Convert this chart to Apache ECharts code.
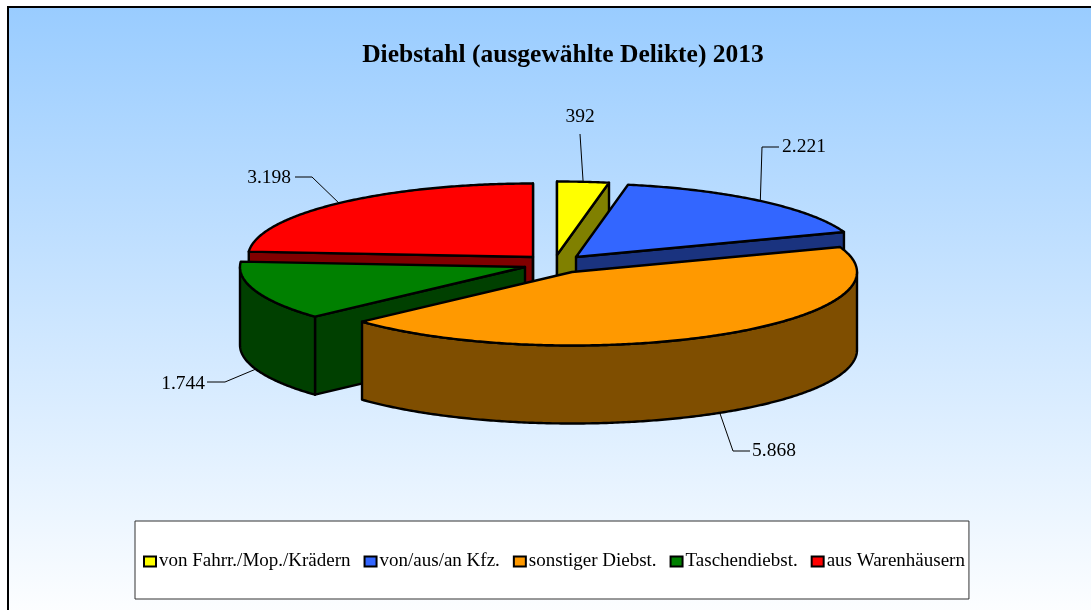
<!DOCTYPE html>
<html><head><meta charset="utf-8">
<style>html,body{margin:0;padding:0;background:#fff}#c{width:1091px;height:610px}</style>
<script src="https://cdn.jsdelivr.net/npm/echarts@6/dist/echarts.min.js"></script>
</head><body><div id="c"></div>
<script>
const categories = ['von Fahrr./Mop./Krädern','von/aus/an Kfz.','sonstiger Diebst.','Taschendiebst.','aus Warenhäusern'];
const values = [392,2221,5868,1744,3198];
const topColors = ['#ffff00','#3366ff','#ff9900','#008000','#ff0000'];
const wallColors = ['#808000','#1a337f','#7f4e00','#004000','#800000'];

// Layout of the exploded 3-D pie (screen pixels), separate from the data
const apexes = [[557,255],[576,257],[572,272],[525,267],[533,257]];
const radiusX = 285, radiusY = 73.5, depth = 78;
const paintOrder = [0,2,4,3,1]; // z rank per slice: yellow, red, blue, green, orange
const labelElbows = [[580,134],[762,147],[733,451],[225,382],[312,177]];
const labelEnds = [[580,134],[779,147],[750,451],[207,382],[295,177]];
const labelAnchors = [[580,117,'center'],[782,147,'left'],[752,451,'left'],[205,384,'right'],[291,178,'right']];

const total = values.reduce((a,b)=>a+b,0);
const starts = []; values.reduce((acc,v,i)=>{starts[i]=acc;return acc+v;},0);
const deg = v => v/total*2*Math.PI;
const fmt = v => String(v).replace(/\B(?=(\d{3})+$)/g,'.');

function pt(i,a,dz){const c=apexes[i];return [c[0]+radiusX*Math.sin(a), c[1]-radiusY*Math.cos(a)+(dz||0)];}
function arc(i,a0,a1,dz){const n=Math.max(2,Math.ceil((a1-a0)/0.01)),r=[];for(let k=0;k<=n;k++)r.push(pt(i,a0+(a1-a0)*k/n,dz));return r;}

function renderSlice(i){
  return function(){
    const a0=deg(starts[i]), a1=deg(starts[i]+values[i]), c=apexes[i];
    const face={fill:wallColors[i],stroke:'#000',lineWidth:2.4,lineJoin:'round'};
    const poly=(pts,style)=>({type:'polygon',shape:{points:pts},style:style,silent:true});
    const kids=[];
    const cut=a=>{const p=pt(i,a);return [c,p,[p[0],p[1]+depth],[c[0],c[1]+depth]];};
    if(-Math.sin(a0)>-1e-6) kids.push(poly(cut(a0),face));
    if(Math.sin(a1)>-1e-6) kids.push(poly(cut(a1),face));
    const f0=Math.max(a0,Math.PI/2), f1=Math.min(a1,Math.PI*1.5);
    if(f1>f0) kids.push(poly(arc(i,f0,f1,0).concat(arc(i,f0,f1,depth).reverse()),face));
    kids.push(poly([c].concat(arc(i,a0,a1,0)),{fill:topColors[i],stroke:'#000',lineWidth:2.4,lineJoin:'round'}));
    // leader line + value label
    const mid=(a0+a1)/2, front=Math.cos(mid)<0;
    const anchor=pt(i,mid,(front&&mid>Math.PI/2&&mid<Math.PI*1.5)?depth:0);
    kids.push({type:'polyline',shape:{points:[labelEnds[i],labelElbows[i],anchor]},style:{fill:null,stroke:'#000',lineWidth:1},silent:true});
    const l=labelAnchors[i];
    kids.push({type:'text',x:l[0],y:l[1],style:{text:fmt(values[i]),fill:'#000',font:'19.5px "Liberation Serif"',align:l[2],verticalAlign:'middle'},silent:true});
    return {type:'group',children:kids};
  };
}

const chart = echarts.init(document.getElementById('c'),null,{renderer:'canvas'});
chart.setOption({
  animation:false,
  backgroundColor:'#ffffff',
  graphic:[{type:'rect',z:-10,silent:true,shape:{x:8,y:7,width:1100,height:620},
    style:{stroke:'#000',lineWidth:2,fill:{type:'linear',x:0,y:0,x2:0,y2:1,colorStops:[{offset:0,color:'#99ccff'},{offset:1,color:'#ffffff'}]}}}],
  title:{text:'Diebstahl (ausgewählte Delikte) 2013',left:558,top:37,textAlign:'center',
    textStyle:{fontFamily:'Liberation Serif',fontWeight:'bold',fontSize:25.5,color:'#000'}},
  legend:{left:135,top:521,orient:'horizontal',data:categories,icon:'rect',itemWidth:12,itemHeight:10,itemGap:13,
    padding:[31,4,28,8],backgroundColor:'#fff',borderColor:'#333',borderWidth:1,borderRadius:0,selectedMode:false,
    itemStyle:{borderColor:'#000',borderWidth:2},
    textStyle:{fontFamily:'Liberation Serif',fontSize:19,color:'#000',padding:[0,0,0,-2]}},
  tooltip:{show:false},
  series:categories.map((name,i)=>({type:'custom',name:name,coordinateSystem:'none',z:2+paintOrder[i],
    data:[[values[i]]],itemStyle:{color:topColors[i]},renderItem:renderSlice(i)}))
});
</script></body></html>
